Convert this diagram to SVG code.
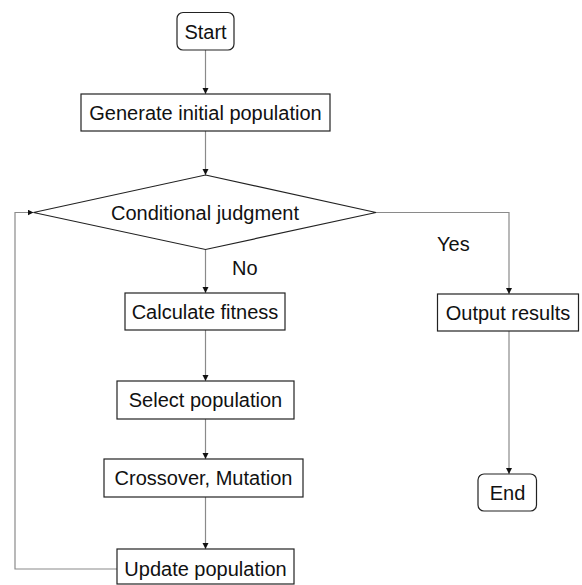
<svg xmlns="http://www.w3.org/2000/svg" width="582" height="585" viewBox="0 0 582 585">
<style>
.box{fill:#fff;stroke:#222;stroke-width:1.2}
.t{font-family:"Liberation Sans",Arial,sans-serif;font-size:20px;fill:#111;text-anchor:middle}
.lb{font-family:"Liberation Sans",Arial,sans-serif;font-size:20px;fill:#111}
.c{fill:none;stroke:#8a8a8a;stroke-width:1.2}
</style>
<defs>
<marker id="ah" markerUnits="userSpaceOnUse" markerWidth="8" markerHeight="8" refX="6" refY="3" orient="auto">
<path d="M0,0 L6,3 L0,6 Z" fill="#111"/>
</marker>
</defs>
<rect width="582" height="585" fill="#fff"/>
<g id="connectors">
<path class="c" d="M205.5,50 V94" marker-end="url(#ah)"/>
<path class="c" d="M205.5,131 V175" marker-end="url(#ah)"/>
<path class="c" d="M205.5,249.5 V293" marker-end="url(#ah)"/>
<path class="c" d="M205.5,330 V381" marker-end="url(#ah)"/>
<path class="c" d="M205.5,419 V459" marker-end="url(#ah)"/>
<path class="c" d="M205.5,497 V549" marker-end="url(#ah)"/>
<path class="c" d="M376,212.5 H509 V294" marker-end="url(#ah)"/>
<path class="c" d="M509,331 V474" marker-end="url(#ah)"/>
<path class="c" d="M117,569 H15 V212.5 H33.5" marker-end="url(#ah)"/>
<text class="lb" x="437" y="251">Yes</text>
<text class="lb" x="232" y="275">No</text>
</g>
<g id="start">
<rect class="box" x="177" y="12.5" width="57" height="37.5" rx="6"/>
<text class="t" x="205.5" y="38.5">Start</text>
</g>
<g id="generate">
<rect class="box" x="81" y="94" width="249" height="37"/>
<text class="t" x="205.5" y="120">Generate initial population</text>
</g>
<g id="judgment">
<polygon class="box" points="205.5,175 376,212.5 205.5,249.5 33.5,212.5"/>
<text class="t" x="205" y="219.5">Conditional judgment</text>
</g>
<g id="fitness">
<rect class="box" x="125" y="293" width="160" height="37"/>
<text class="t" x="205" y="319">Calculate fitness</text>
</g>
<g id="select">
<rect class="box" x="117" y="381" width="177" height="38"/>
<text class="t" x="205.5" y="407">Select population</text>
</g>
<g id="crossover">
<rect class="box" x="104" y="459" width="199" height="38"/>
<text class="t" x="203.5" y="485">Crossover, Mutation</text>
</g>
<g id="update">
<rect class="box" x="117" y="549" width="177" height="35"/>
<text class="t" x="205.5" y="575.5">Update population</text>
</g>
<g id="output">
<rect class="box" x="437.5" y="294" width="141" height="37"/>
<text class="t" x="508" y="320">Output results</text>
</g>
<g id="end">
<rect class="box" x="478" y="474" width="58.5" height="37" rx="6"/>
<text class="t" x="507.5" y="499.5">End</text>
</g>
</svg>
